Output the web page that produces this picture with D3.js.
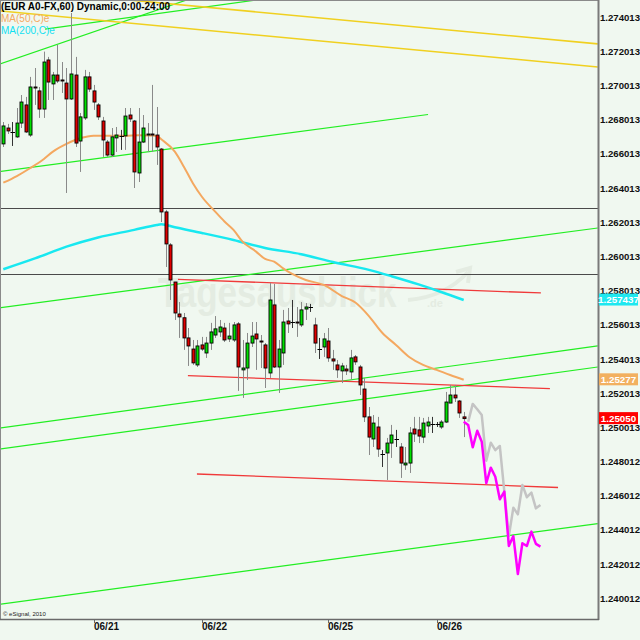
<!DOCTYPE html>
<html><head><meta charset="utf-8">
<script src="https://cdn.jsdelivr.net/npm/d3@7"></script>
<style>html,body{margin:0;padding:0;background:#f0f8f0;} svg{display:block;}</style>
</head><body>
<svg id="c" width="640" height="640"></svg>
<script>
// ---------- DATA ----------
const opens=[1.26657,1.26750,1.26727,1.26698,1.26779,1.26885,1.26709,1.26990,1.26967,1.26861,
1.27148,1.27008,1.27060,1.27031,1.27013,1.26920,1.27060,1.26674,1.26809,1.27049,
1.26967,1.26885,1.26791,1.26668,1.26592,1.26692,1.26704,1.26704,1.26826,1.26791,
1.26487,1.26668,1.26709,1.26715,1.26709,1.26627,1.26259,1.26066,1.25849,1.25662,
1.25640,1.25522,1.25457,1.25364,1.25481,1.25434,1.25492,1.25539,1.25557,1.25580,
1.25516,1.25510,1.25604,1.25335,1.25346,1.25492,1.25545,1.25504,1.25481,1.25317,
1.25715,1.25352,1.25434,1.25621,1.25615,1.25615,1.25598,1.25691,1.25703,1.25598,
1.25457,1.25469,1.25504,1.25399,1.25364,1.25329,1.25340,1.25323,1.25411,1.25352,
1.25223,1.25060,1.24931,1.25001,1.24843,1.24849,1.24907,1.24931,1.24884,1.24779,
1.24790,1.24989,1.24984,1.24942,1.25007,1.25019,1.25019,1.25001,1.25030,1.25141,
1.25188,1.25153,1.25060];
const highs=[1.26785,1.26774,1.26785,1.26867,1.26943,1.26932,1.27049,1.27101,1.26990,1.27197,
1.27166,1.27078,1.27236,1.27136,1.27101,1.27423,1.27166,1.26838,1.27090,1.27078,
1.27002,1.26896,1.26815,1.26680,1.26750,1.26756,1.26739,1.26867,1.26867,1.26797,
1.26867,1.26826,1.26779,1.27002,1.26873,1.26633,1.26271,1.26077,1.25849,1.25732,
1.25668,1.25580,1.25510,1.25510,1.25528,1.25528,1.25610,1.25650,1.25627,1.25610,
1.25610,1.25615,1.25615,1.25510,1.25551,1.25615,1.25615,1.25539,1.25492,1.25843,
1.25838,1.25510,1.25686,1.25697,1.25744,1.25703,1.25732,1.25726,1.25721,1.25640,
1.25522,1.25551,1.25580,1.25452,1.25393,1.25376,1.25364,1.25452,1.25422,1.25364,
1.25288,1.25118,1.25071,1.25060,1.24866,1.24937,1.25013,1.24984,1.24907,1.24884,
1.25001,1.25060,1.25060,1.25054,1.25060,1.25060,1.25030,1.25042,1.25206,1.25247,
1.25247,1.25159,1.25089];
const lows=[1.26639,1.26715,1.26645,1.26692,1.26750,1.26721,1.26698,1.26885,1.26809,1.26809,
1.26914,1.26914,1.27013,1.26955,1.26370,1.26914,1.26639,1.26493,1.26797,1.26961,
1.26856,1.26797,1.26581,1.26581,1.26581,1.26610,1.26622,1.26622,1.26785,1.26399,
1.26434,1.26662,1.26610,1.26610,1.26534,1.26200,1.25937,1.25744,1.25627,1.25522,
1.25452,1.25358,1.25364,1.25352,1.25446,1.25405,1.25452,1.25522,1.25528,1.25498,
1.25498,1.25498,1.25212,1.25171,1.25276,1.25469,1.25335,1.25346,1.25229,1.25288,
1.25346,1.25200,1.25364,1.25551,1.25580,1.25528,1.25586,1.25627,1.25674,1.25434,
1.25399,1.25411,1.25382,1.25335,1.25288,1.25258,1.25305,1.25276,1.25364,1.25188,
1.25030,1.24837,1.24884,1.24826,1.24767,1.24691,1.24820,1.24884,1.24703,1.24750,
1.24732,1.24913,1.24907,1.24907,1.24966,1.24966,1.25001,1.24989,1.25024,1.25141,
1.25147,1.25054,1.24942];
const closes=[1.26762,1.26733,1.26725,1.26779,1.26902,1.26727,1.26990,1.26984,1.26861,1.27136,
1.27019,1.27060,1.27025,1.27025,1.26920,1.27066,1.26662,1.26815,1.27049,1.26978,
1.26902,1.26815,1.26680,1.26592,1.26698,1.26709,1.26702,1.26820,1.26803,1.26493,
1.26668,1.26750,1.26715,1.26709,1.26639,1.26259,1.26072,1.25861,1.25668,1.25645,
1.25522,1.25475,1.25376,1.25475,1.25457,1.25492,1.25557,1.25575,1.25586,1.25510,
1.25533,1.25598,1.25352,1.25346,1.25492,1.25533,1.25516,1.25498,1.25346,1.25744,
1.25352,1.25457,1.25615,1.25604,1.25613,1.25610,1.25686,1.25703,1.25701,1.25492,
1.25455,1.25516,1.25405,1.25387,1.25335,1.25358,1.25329,1.25405,1.25382,1.25247,
1.25060,1.24942,1.25024,1.24872,1.24841,1.24907,1.24954,1.24929,1.24790,1.24790,
1.24966,1.24960,1.24948,1.25024,1.25030,1.25017,1.25021,1.25030,1.25147,1.25188,
1.25171,1.25083,1.25050];

// moving averages (bar index, value)
const ma50Idx=[0,3,6,9,11,14,17,20,23,27,30,34,35,38,40,42,44,47,49,51,53,56,58,60,62,64,67,71,75,78,81,84,87,90,93,96,99,102];
const ma50Val=[1.26430,1.26469,1.26516,1.26569,1.26612,1.26657,1.26690,1.26705,1.26705,1.26704,1.26708,1.26704,1.26684,1.26612,1.26524,1.26427,1.26348,1.26259,1.26203,1.26154,1.26085,1.26027,1.25984,1.25968,1.25929,1.25896,1.25861,1.25832,1.25767,1.25729,1.25650,1.25551,1.25481,1.25409,1.25364,1.25335,1.25305,1.25277];
const ma200Idx=[0,7,14,21,29,34,35,38,44,51,58,66,73,81,86,92,97,102];
const ma200Val=[1.25924,1.25987,1.26056,1.26110,1.26154,1.26183,1.26187,1.26169,1.26136,1.26095,1.26048,1.26012,1.25966,1.25920,1.25883,1.25835,1.25791,1.257437];

// projections
const projMagentaStart=102;
const projMagenta=[1.25032,1.25013,1.24882,1.24979,1.24915,1.24672,1.24763,1.24710,1.24578,1.24623,1.24305,1.24363,1.24141,1.24321,1.24305,1.24389,1.24317,1.24301];
const projGrayStart=103;
const projGray=[1.25032,1.25136,1.25105,1.25071,1.24804,1.24909,1.24866,1.24890,1.24623,1.24363,1.24529,1.24490,1.24662,1.24590,1.24617,1.24525,1.24545];

// drawn trend lines: start index, start price, end index, end price, kind
const tlX1=[-0.73,9.24,21.4,-0.73,-0.73,-0.73,-0.73,-0.73,-0.73,38.7,40.9,42.9];
const tlP1=[1.27125,1.27329,1.27515,1.27435,1.26495,1.25699,1.24995,1.24872,1.23964,1.25865,1.25301,1.24726];
const tlX2=[43.6,59.1,131.7,131.7,94.1,131.7,131.7,131.7,131.7,119.1,121.1,122.9];
const tlP2=[1.27526,1.27510,1.27242,1.27107,1.26829,1.26165,1.25475,1.25352,1.24436,1.25785,1.25226,1.24647];
const tlKind=["green","green","yellow","yellow","green","green","green","green","green","red","red","red"];
const hLines=[1.26282,1.25896];

// axes
const priceTicks=[1.274013,1.272013,1.270013,1.268013,1.266013,1.264013,1.262013,1.260013,1.258013,1.256013,1.254013,1.252013,1.250013,1.248012,1.246012,1.244012,1.242012,1.240012];
const priceTickLabels=["1.274013","1.272013","1.270013","1.268013","1.266013","1.264013","1.262013","1.260013","1.258013","1.256013","1.254013","1.252013","1.250013","1.248012","1.246012","1.244012","1.242012","1.240012"];
const dateTickIdx=[20,44,72,96];
const dateLabels=["06/21","06/22","06/25","06/26"];
const markerValues=[1.257437,1.25277,1.25050];
const markerLabels=["1.257437","1.25277","1.25050"];
const markerKinds=["ma200","ma50","last"];

// ---------- DRAW ----------
const W=640,H=640,PR=598,PB=619;
const FONT="'Liberation Sans', Arial, sans-serif";
const svg=d3.select("#c");
svg.append("rect").attr("width",W).attr("height",H).attr("fill","#f0f8f0");
svg.append("defs").append("clipPath").attr("id","plot")
  .append("rect").attr("x",1).attr("y",1).attr("width",PR-1).attr("height",PB-1);

const x=d3.scaleLinear().domain([0,102]).range([3.3,463.7]);
const y=d3.scaleLinear().domain([1.240,1.274]).range([598.1,16.9]);

const plot=svg.append("g").attr("clip-path","url(#plot)");

// watermark
const WM="#e4ece2";
plot.append("text").attr("transform","translate(158,307) scale(1,1.2)").attr("font-family",FONT).attr("font-weight","bold")
  .attr("font-size",35).attr("fill",WM).text("Tagesausblick");
plot.append("text").attr("x",427).attr("y",307).attr("font-family",FONT).attr("font-weight","bold")
  .attr("font-size",11).attr("fill",WM).text(".de");
plot.append("path").attr("d","M408,300 Q445,297 468,272").attr("fill","none").attr("stroke",WM).attr("stroke-width",4);
plot.append("path").attr("d","M456,272 L470,268 L468,283").attr("fill","none").attr("stroke",WM).attr("stroke-width",4);

// horizontal lines
plot.selectAll(".hl").data(hLines).enter().append("line")
  .attr("x1",0).attr("x2",PR).attr("y1",d=>Math.round(y(d))+0.5).attr("y2",d=>Math.round(y(d))+0.5)
  .attr("stroke","#4a4a4a").attr("stroke-width",1);

const tlStyle={green:{c:"#22ee22",w:1.2},yellow:{c:"#f0d020",w:1.6},red:{c:"#f03a3a",w:1.3}};
plot.selectAll(".tl").data(tlKind.map((k,i)=>({k,i}))).enter().append("line")
  .attr("x1",d=>x(tlX1[d.i])).attr("y1",d=>y(tlP1[d.i]))
  .attr("x2",d=>x(tlX2[d.i])).attr("y2",d=>y(tlP2[d.i]))
  .attr("stroke",d=>tlStyle[d.k].c).attr("stroke-width",d=>tlStyle[d.k].w);

// moving averages
const lineGen=d3.line().x(d=>x(d[0])).y(d=>y(d[1])).curve(d3.curveMonotoneX);
plot.append("path").attr("d",lineGen(ma200Idx.map((v,i)=>[v,ma200Val[i]])))
  .attr("fill","none").attr("stroke","#18e8f0").attr("stroke-width",2.5);
plot.append("path").attr("d",lineGen(ma50Idx.map((v,i)=>[v,ma50Val[i]])))
  .attr("fill","none").attr("stroke","#f4a860").attr("stroke-width",2);

// candles
const candles=opens.map((o,i)=>({i,o,h:highs[i],l:lows[i],c:closes[i]}));
const cg=plot.append("g");
candles.forEach(d=>{
  const cx=Math.round(x(d.i));
  const doji=Math.abs(d.o-d.c)<0.00004;
  cg.append("line").attr("x1",cx+0.5).attr("x2",cx+0.5).attr("y1",y(d.h)).attr("y2",y(d.l))
    .attr("stroke",doji?"#333":"#8a8a8a").attr("stroke-width",1);
  if(doji){
    const yy=Math.round(y(d.c))+0.5;
    cg.append("line").attr("x1",cx-1.5).attr("x2",cx+3).attr("y1",yy).attr("y2",yy)
      .attr("stroke","#000").attr("stroke-width",1);
  } else {
    const top=y(Math.max(d.o,d.c)), bot=y(Math.min(d.o,d.c));
    cg.append("rect").attr("x",cx-1).attr("y",top).attr("width",3).attr("height",Math.max(1,bot-top))
      .attr("fill",d.c>d.o?"#00e000":"#e00000").attr("stroke","#000").attr("stroke-width",0.9);
  }
});

// projections
const projGen=d3.line().x(d=>x(d[0])).y(d=>y(d[1]));
plot.append("path").attr("d",projGen(projGray.map((v,i)=>[projGrayStart+i,v])))
  .attr("fill","none").attr("stroke","#c4c4c4").attr("stroke-width",2.5).attr("stroke-linejoin","round");
plot.append("path").attr("d",projGen(projMagenta.map((v,i)=>[projMagentaStart+i,v])))
  .attr("fill","none").attr("stroke","#ff00ff").attr("stroke-width",2.5).attr("stroke-linejoin","round");

// frame
svg.append("line").attr("x1",0).attr("x2",PR+1).attr("y1",0.5).attr("y2",0.5).attr("stroke","#8a8a8a");
svg.append("line").attr("x1",0.5).attr("x2",0.5).attr("y1",0).attr("y2",PB).attr("stroke","#8a8a8a");
svg.append("line").attr("x1",PR+0.5).attr("x2",PR+0.5).attr("y1",0).attr("y2",PB+1).attr("stroke","#7a7a7a").attr("stroke-width",2);
svg.append("line").attr("x1",0).attr("x2",PR+1).attr("y1",PB+0.5).attr("y2",PB+0.5).attr("stroke","#6a6a6a").attr("stroke-width",1.5);

// price axis labels
svg.selectAll(".pt").data(priceTicks).enter().append("text")
  .attr("x",PR+2).attr("y",d=>y(d)+0.5).attr("dy","0.36em")
  .attr("font-family",FONT).attr("font-weight","bold").attr("font-size",9.6).attr("fill","#111")
  .text((d,i)=>priceTickLabels[i]);

// date axis
svg.selectAll(".dt").data(dateTickIdx).enter().append("line")
  .attr("x1",d=>Math.round(x(d))+0.5).attr("x2",d=>Math.round(x(d))+0.5)
  .attr("y1",PB).attr("y2",PB+4).attr("stroke","#6a6a6a");
svg.selectAll(".dl").data(dateTickIdx).enter().append("text")
  .attr("x",d=>Math.round(x(d))).attr("y",630)
  .attr("font-family",FONT).attr("font-weight","bold").attr("font-size",10).attr("fill","#111")
  .text((d,i)=>dateLabels[i]);

// value markers
const markerStyle={ma200:"#1ee8f0",ma50:"#f2b060",last:"#ff0000"};
markerValues.forEach((v,i)=>{
  const yy=y(v)-0.5;
  svg.append("rect").attr("x",PR+1).attr("y",yy-6).attr("width",39).attr("height",12)
    .attr("fill",markerStyle[markerKinds[i]]);
  svg.append("text").attr("x",PR+20.5).attr("y",yy).attr("dy","0.36em").attr("text-anchor","middle")
    .attr("font-family",FONT).attr("font-weight","bold").attr("font-size",9.8).attr("fill","#fff")
    .text(markerLabels[i]);
});

// titles
svg.append("text").attr("x",1).attr("y",10).attr("font-family",FONT).attr("font-weight","bold")
  .attr("font-size",10).attr("fill","#000").text("(EUR A0-FX,60) Dynamic,0:00-24:00");
svg.append("text").attr("x",1).attr("y",22).attr("font-family",FONT)
  .attr("font-size",10).attr("fill","#f4a860").text("MA(50,C)e");
svg.append("text").attr("x",1).attr("y",34).attr("font-family",FONT)
  .attr("font-size",10).attr("fill","#10e0f0").text("MA(200,C)e");
svg.append("text").attr("x",3).attr("y",616).attr("font-family",FONT)
  .attr("font-size",6).attr("fill","#222").text("© eSignal, 2010");
</script>
</body></html>
